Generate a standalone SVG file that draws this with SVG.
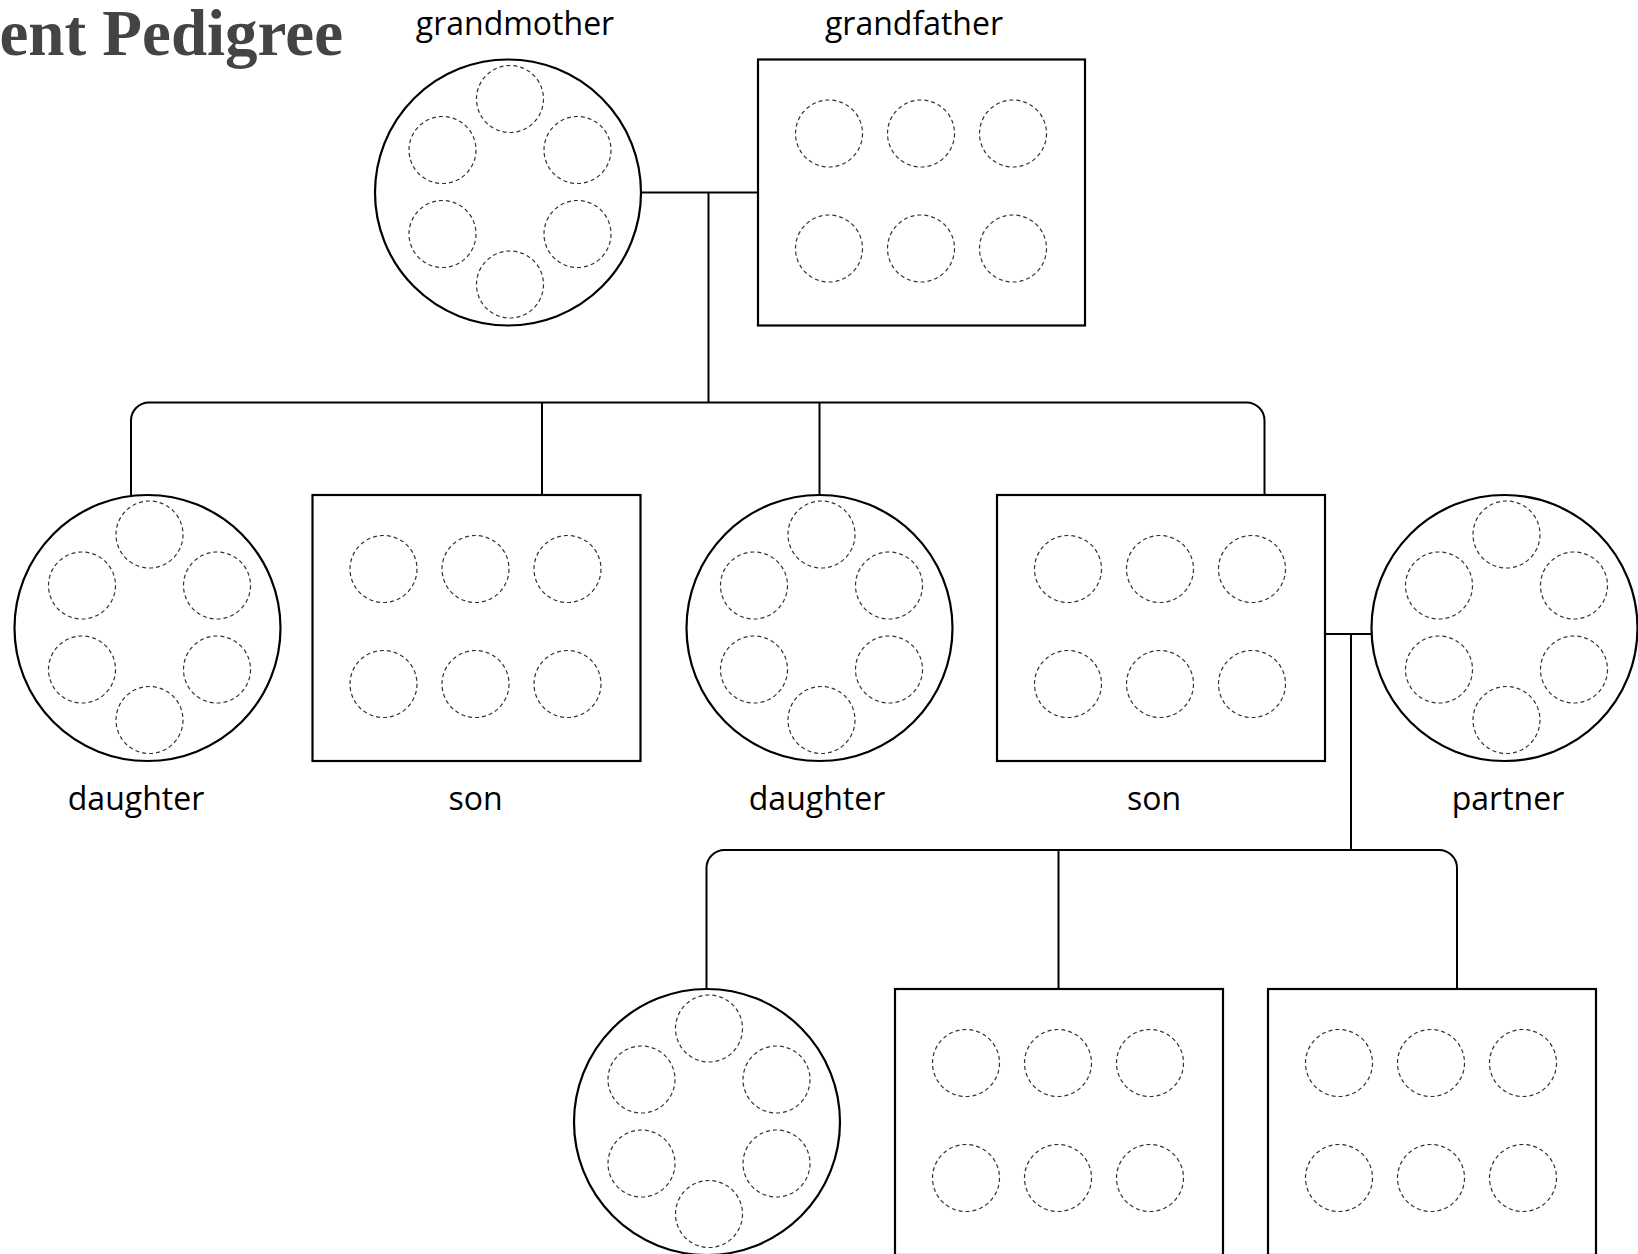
<svg xmlns="http://www.w3.org/2000/svg" xmlns:xlink="http://www.w3.org/1999/xlink" width="1638" height="1254" viewBox="0 0 1638 1254">
<style>
.shape{fill:#fff;stroke:#000;stroke-width:2.2}
.dash{fill:none;stroke:#333;stroke-width:1.2;stroke-dasharray:4 3}
.conn{fill:none;stroke:#000;stroke-width:2}
.lbl{font-family:"Open Sans","Noto Sans","Liberation Sans",sans-serif;font-size:32px;fill:#000;text-anchor:middle}
.title{font-family:"Liberation Serif","DejaVu Serif",serif;font-weight:bold;font-size:65px;fill:#444;text-anchor:end}
</style>
<defs>
<g id="fInner">
<circle class="dash" cx="2" cy="-93.5" r="33.5"/>
<circle class="dash" cx="-65.5" cy="-42.5" r="33.5"/>
<circle class="dash" cx="69.5" cy="-42.5" r="33.5"/>
<circle class="dash" cx="-65.5" cy="41.5" r="33.5"/>
<circle class="dash" cx="69.5" cy="41.5" r="33.5"/>
<circle class="dash" cx="2" cy="92" r="33.5"/>
</g>
<g id="mInner">
<circle class="dash" cx="71" cy="74" r="33.5"/>
<circle class="dash" cx="163" cy="74" r="33.5"/>
<circle class="dash" cx="255" cy="74" r="33.5"/>
<circle class="dash" cx="71" cy="189" r="33.5"/>
<circle class="dash" cx="163" cy="189" r="33.5"/>
<circle class="dash" cx="255" cy="189" r="33.5"/>
</g>
</defs>
<rect width="1638" height="1254" fill="#fff"/>
<text class="title" x="343" y="55">ent Pedigree</text>
<g id="connectors">
<path class="conn" d="M641,192.5 H758 M708.5,192.5 V402.5"/>
<path class="conn" d="M131,495 V420.5 A18,18 0 0 1 149,402.5 H1246.5 A18,18 0 0 1 1264.5,420.5 V495 M542,402.5 V495 M819.5,402.5 V495"/>
<path class="conn" d="M1325,634 H1371.5 M1351,634 V850"/>
<path class="conn" d="M706.5,989 V868 A18,18 0 0 1 724.5,850 H1439 A18,18 0 0 1 1457,868 V989 M1058.5,850 V989"/>
</g>
<g id="grandmother">
<circle class="shape" cx="508" cy="192.5" r="133"/>
<use xlink:href="#fInner" href="#fInner" x="508" y="192.5"/>
<text class="lbl" x="515" y="35">grandmother</text>
</g>
<g id="grandfather">
<rect class="shape" x="758" y="59.5" width="327" height="266"/>
<use xlink:href="#mInner" href="#mInner" x="758" y="59.5"/>
<text class="lbl" x="914" y="35">grandfather</text>
</g>
<g id="daughter1">
<circle class="shape" cx="147.5" cy="628" r="133"/>
<use xlink:href="#fInner" href="#fInner" x="147.5" y="628"/>
<text class="lbl" x="136" y="810">daughter</text>
</g>
<g id="son1">
<rect class="shape" x="312.5" y="495" width="328" height="266"/>
<use xlink:href="#mInner" href="#mInner" x="312.5" y="495"/>
<text class="lbl" x="475.5" y="810">son</text>
</g>
<g id="daughter2">
<circle class="shape" cx="819.5" cy="628" r="133"/>
<use xlink:href="#fInner" href="#fInner" x="819.5" y="628"/>
<text class="lbl" x="817" y="810">daughter</text>
</g>
<g id="son2">
<rect class="shape" x="997" y="495" width="328" height="266"/>
<use xlink:href="#mInner" href="#mInner" x="997" y="495"/>
<text class="lbl" x="1154" y="810">son</text>
</g>
<g id="partner">
<circle class="shape" cx="1504.5" cy="628" r="133"/>
<use xlink:href="#fInner" href="#fInner" x="1504.5" y="628"/>
<text class="lbl" x="1508" y="810">partner</text>
</g>
<g id="grandchild1">
<circle class="shape" cx="707" cy="1122" r="133"/>
<use xlink:href="#fInner" href="#fInner" x="707" y="1122"/>
</g>
<g id="grandchild2">
<rect class="shape" x="895" y="989" width="328" height="266"/>
<use xlink:href="#mInner" href="#mInner" x="895" y="989"/>
</g>
<g id="grandchild3">
<rect class="shape" x="1268" y="989" width="328" height="266"/>
<use xlink:href="#mInner" href="#mInner" x="1268" y="989"/>
</g>
</svg>
